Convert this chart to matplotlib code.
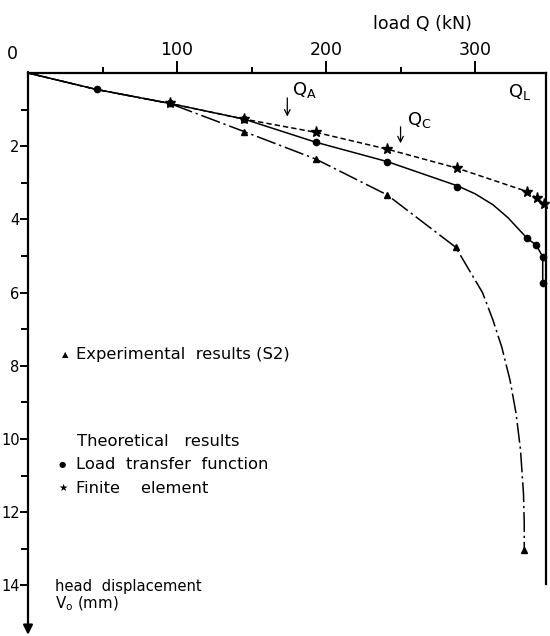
import matplotlib
matplotlib.use("Agg")
import matplotlib.pyplot as plt

# load Q (kN) / head displacement V0 (mm)
# experimental results (S2) - triangles, dash-dot
exp_q = [0, 46, 95, 145, 193, 241, 287, 297, 305, 312, 318, 323.5, 327.5, 330.5, 332.5, 333, 333]
exp_v = [0, 0.45, 0.83, 1.60, 2.35, 3.33, 4.76, 5.45, 6.0, 6.75, 7.5, 8.4, 9.3, 10.3, 11.5, 12.3, 13.03]
exp_mq = [145, 193, 241, 287, 333]
exp_mv = [1.60, 2.35, 3.33, 4.76, 13.03]

# load transfer function - dots, solid
ltf_q = [0, 46, 95, 145, 193, 241, 288, 300, 312, 322, 330, 335, 341, 345.4, 345.4]
ltf_v = [0, 0.45, 0.83, 1.26, 1.89, 2.42, 3.08, 3.3, 3.6, 3.95, 4.3, 4.52, 4.70, 5.02, 5.73]
ltf_mq = [46, 95, 145, 193, 241, 288, 335, 341, 345.4, 345.4]
ltf_mv = [0.45, 0.83, 1.26, 1.89, 2.42, 3.11, 4.52, 4.70, 5.02, 5.73]

# finite element - stars, short dashes
fe_q = [0, 46, 95, 145, 193, 241, 288, 335, 341.4, 346.5]
fe_v = [0, 0.45, 0.83, 1.26, 1.62, 2.08, 2.60, 3.24, 3.42, 3.58]
fe_mq = [95, 145, 193, 241, 288, 335, 341.4, 346.5]
fe_mv = [0.83, 1.26, 1.62, 2.08, 2.60, 3.24, 3.42, 3.58]

q_a = 174
q_c = 250
q_max = 347.6
v_max = 15.0
v_frame = 13.95

fig = plt.figure(figsize=(5.5, 6.36), dpi=100)
ax = fig.add_axes([28 / 550, 14 / 636, 518 / 550, 549 / 636])
ax.set_xlim(0, q_max)
ax.set_ylim(v_max, 0)

ax.plot(exp_q, exp_v, color="black", lw=1.1, linestyle=(0, (13, 2.5, 1.5, 2.5)))
ax.plot(exp_mq, exp_mv, "^", color="black", ms=4.5, clip_on=False)
ax.plot(ltf_q, ltf_v, color="black", lw=1.1)
ax.plot(ltf_mq, ltf_mv, "o", color="black", ms=4.5, clip_on=False)
ax.plot(fe_q, fe_v, color="black", lw=1.1, linestyle=(0, (3.5, 2)))
ax.plot(fe_mq, fe_mv, "*", color="black", ms=8, clip_on=False)

# frame: top axis, left arrow axis, short right line
for s in ["bottom", "right", "left"]:
    ax.spines[s].set_visible(False)
ax.spines["top"].set_linewidth(1.6)
ax.axvline(q_max, ymin=1 - v_frame / v_max, ymax=1, color="black", lw=1.6, clip_on=False)
ax.annotate("", xy=(0, 15.35), xytext=(0, -0.03), annotation_clip=False,
            arrowprops=dict(arrowstyle="-|>", lw=1.6, color="black", mutation_scale=14,
                            shrinkA=0, shrinkB=0))

ax.xaxis.tick_top()
ax.set_xticks([100, 200, 300])
ax.set_xticks([50, 150, 250], minor=True)
ax.set_yticks([2, 4, 6, 8, 10, 12, 14])
ax.set_yticks([1, 3, 5, 7, 9, 11, 13], minor=True)
ax.tick_params(axis="x", which="major", direction="out", length=9, width=1.4, pad=1, labelsize=12.5)
ax.tick_params(axis="x", which="minor", direction="out", length=4, width=1.4)
ax.tick_params(axis="y", which="major", direction="out", length=5.5, width=1.4, pad=0.5, labelsize=10.5)
ax.tick_params(axis="y", which="minor", direction="out", length=5, width=1.4)
fig.text(12 / 550, 1 - 54 / 636, "0", fontsize=12.5, ha="center", va="center")

fig.text(422 / 550, 1 - 24 / 636, "load Q (kN)", fontsize=12.5, ha="center", va="center")

# Q markers
ax.annotate("", xy=(q_a, 1.19), xytext=(q_a, 0.68),
            arrowprops=dict(arrowstyle="->", lw=0.9, color="black", shrinkA=0, shrinkB=0))
ax.text(177, 0.47, "$\\mathregular{Q_A}$", fontsize=13, ha="left", va="center")
ax.annotate("", xy=(q_c, 1.92), xytext=(q_c, 1.47),
            arrowprops=dict(arrowstyle="->", lw=0.9, color="black", shrinkA=0, shrinkB=0))
ax.text(254, 1.28, "$\\mathregular{Q_C}$", fontsize=13, ha="left", va="center")
ax.text(322, 0.51, "$\\mathregular{Q_L}$", fontsize=13, ha="left", va="center")

# legend text
ax.text(25, 7.70, "\u25b2", fontsize=6, ha="center", va="center")
ax.text(32, 7.70, "Experimental  results (S2)", fontsize=11.8, ha="left", va="center")
ax.text(33, 10.07, "Theoretical   results", fontsize=11.8, ha="left", va="center")
ax.text(23, 10.71, "\u25cf", fontsize=6, ha="center", va="center")
ax.text(32, 10.71, "Load  transfer  function", fontsize=11.8, ha="left", va="center")
ax.text(23.5, 11.35, "\u2605", fontsize=7.5, ha="center", va="center")
ax.text(32, 11.35, "Finite    element", fontsize=11.8, ha="left", va="center")
ax.text(18, 14.03, "head  displacement", fontsize=10.6, ha="left", va="center")
ax.text(18, 14.5, "$\\mathregular{V_o}$ (mm)", fontsize=10.8, ha="left", va="center")

fig.savefig("out.png", dpi=100)
